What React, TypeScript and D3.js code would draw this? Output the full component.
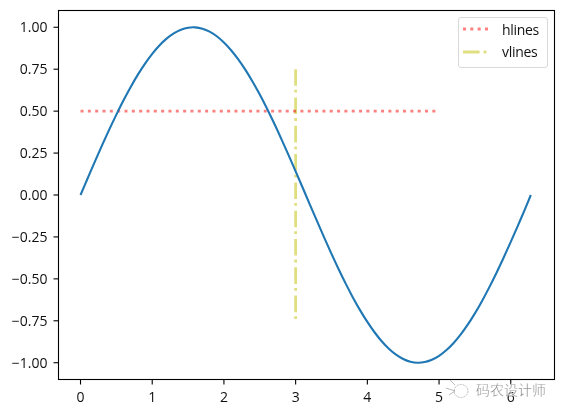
import React from "react";
import * as d3 from "d3";

const W = 563, H = 415;
const box = { l: 58.5, r: 554.5, t: 10.5, b: 379.5 };
const xDomain = [-0.307, 6.61];
const yDomain = [-1.1, 1.1];
const xTicks = [0, 1, 2, 3, 4, 5, 6];
const yTicks = [-1, -0.75, -0.5, -0.25, 0, 0.25, 0.5, 0.75, 1];
const yLabels = ["−1.00", "−0.75", "−0.50", "−0.25", "0.00", "0.25", "0.50", "0.75", "1.00"];

const curveX = [0, 0.1, 0.2, 0.3, 0.4, 0.5, 0.6, 0.7, 0.8, 0.9, 1, 1.1, 1.2, 1.3, 1.4, 1.5, 1.6, 1.7, 1.8, 1.9, 2, 2.1, 2.2, 2.3, 2.4, 2.5, 2.6, 2.7, 2.8, 2.9, 3, 3.1, 3.2, 3.3, 3.4, 3.5, 3.6, 3.7, 3.8, 3.9, 4, 4.1, 4.2, 4.3, 4.4, 4.5, 4.6, 4.7, 4.8, 4.9, 5, 5.1, 5.2, 5.3, 5.4, 5.5, 5.6, 5.7, 5.8, 5.9, 6, 6.1, 6.2, 6.28];
const curveY = [0, 0.0998, 0.1987, 0.2955, 0.3894, 0.4794, 0.5646, 0.6442, 0.7174, 0.7833, 0.8415, 0.8912, 0.932, 0.9636, 0.9854, 0.9975, 0.9996, 0.9917, 0.9738, 0.9463, 0.9093, 0.8632, 0.8085, 0.7457, 0.6755, 0.5985, 0.5155, 0.4274, 0.335, 0.2392, 0.1411, 0.0416, -0.0584, -0.1577, -0.2555, -0.3508, -0.4425, -0.5298, -0.6119, -0.6878, -0.7568, -0.8183, -0.8716, -0.9162, -0.9516, -0.9775, -0.9937, -1, -0.9962, -0.9825, -0.9589, -0.9258, -0.8835, -0.8323, -0.7728, -0.7055, -0.6313, -0.5507, -0.4646, -0.3739, -0.2794, -0.1822, -0.0831, 0];

const hlineY = 0.5;
const hlineRange = [0, 5];
const vlineX = 3;
const vlineRange = [-0.75, 0.75];
const legendLabels = ["hlines", "vlines"];
const watermark = "码农设计师";

const FONT = "'Open Sans', 'Noto Sans CJK SC', sans-serif";
const RED = "#ff8080";
const YEL = "#dfdf80";
const DOT = "3 4.33";
const DASHDOT = "16.6 4 2.8 4.9";

export default function App() {
  const x = d3.scaleLinear().domain(xDomain).range([box.l, box.r]);
  const y = d3.scaleLinear().domain(yDomain).range([box.b, box.t]);
  const line = d3.line<number>().x((d) => x(d)).y((_, i) => y(curveY[i])).curve(d3.curveCatmullRom);
  return (
    <svg width={W} height={H} style={{ position: "absolute", left: 0, top: 0, background: "#fff" }} fontFamily={FONT}>
      <line x1={x(vlineX)} x2={x(vlineX)} y1={y(vlineRange[1])} y2={y(vlineRange[0])} stroke={YEL} strokeWidth={2.8} strokeDasharray={DASHDOT} />
      <line x1={x(hlineRange[0])} x2={x(hlineRange[1])} y1={y(hlineY)} y2={y(hlineY)} stroke={RED} strokeWidth={2.8} strokeDasharray={DOT} style={{ mixBlendMode: "multiply" }} />
      <path d={line(curveX) ?? ""} fill="none" stroke="#1f77b4" strokeWidth={2.1} />
      <rect x={box.l} y={box.t} width={box.r - box.l} height={box.b - box.t} fill="none" stroke="#000" strokeWidth={1.1} />
      {xTicks.map((t) => (
        <g key={t}>
          <line x1={x(t)} x2={x(t)} y1={box.b} y2={box.b + 5} stroke="#000" strokeWidth={1.1} />
          <text x={x(t)} y={box.b + 22} textAnchor="middle" fontSize={14} fill="#111">{t}</text>
        </g>
      ))}
      {yTicks.map((t, i) => (
        <g key={t}>
          <line x1={box.l - 5} x2={box.l} y1={y(t)} y2={y(t)} stroke="#000" strokeWidth={1.1} />
          <text x={box.l - 11} y={y(t) + 5} textAnchor="end" fontSize={14} fill="#111">{yLabels[i]}</text>
        </g>
      ))}
      <rect x={458.5} y={17.5} width={89} height={50} rx={2.5} fill="#fff" fillOpacity={0.8} stroke="#d9d9d9" strokeWidth={1} />
      <line x1={463} x2={489} y1={29} y2={29} stroke={RED} strokeWidth={2.8} strokeDasharray={DOT} />
      <line x1={463} x2={489} y1={52} y2={52} stroke={YEL} strokeWidth={2.8} strokeDasharray={DASHDOT} />
      <text x={502} y={35} fontSize={14} fill="#111" letterSpacing={-0.3}>{legendLabels[0]}</text>
      <text x={502} y={57} fontSize={14} fill="#111" letterSpacing={-0.3}>{legendLabels[1]}</text>
      <g fill="none" stroke="#aaa" strokeWidth={0.8}>
        <ellipse cx={461} cy={391} rx={7} ry={6.5} strokeDasharray="2 1" />
        <path d="M446 388 L455 391 L449 395 M450 380 L455 385" />
      </g>
      <text x={476} y={395} fontSize={14} fill="#8c8c8c" stroke="#fff" strokeWidth={0.3}>{watermark}</text>
    </svg>
  );
}
